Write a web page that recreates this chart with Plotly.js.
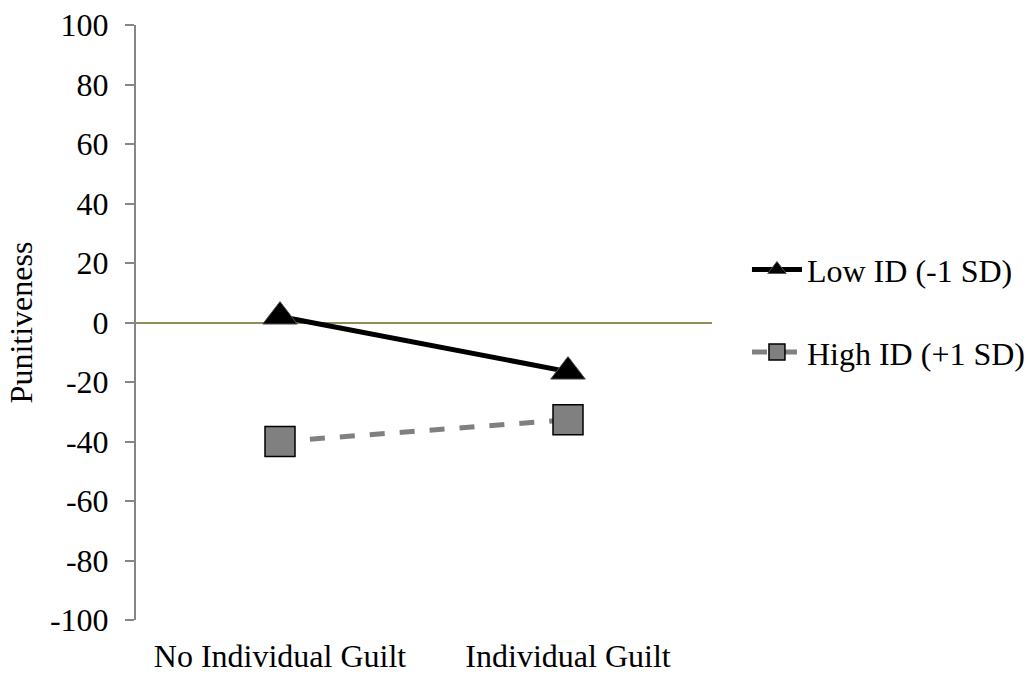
<!DOCTYPE html>
<html>
<head>
<meta charset="utf-8">
<script src="https://cdn.plot.ly/plotly-3.0.1.min.js"></script>
<style>html,body{margin:0;padding:0;background:#fff;}#chart{width:1034px;height:675px;}</style>
</head>
<body>
<div id="chart"></div>
<script>
const categories = ["No Individual Guilt", "Individual Guilt"];
const lowIdValues = [2, -16.5];
const highIdValues = [-40, -32.7];
const seriesNames = ["Low ID (-1 SD)", "High ID (+1 SD)"];
const yTickValues = [-100, -80, -60, -40, -20, 0, 20, 40, 60, 80, 100];
const yTickLabels = ["-100", "-80", "-60", "-40", "-20", "0", "20", "40", "60", "80", "100"];

const font = "'Liberation Serif', 'Times New Roman', Times, serif";

const traces = [
  {
    x: categories, y: lowIdValues, name: seriesNames[0], type: "scatter", mode: "lines+markers",
    legendgroup: "a",
    line: {color: "#000000", width: 5},
    marker: {symbol: "triangle-up", size: 30, color: "#000000", line: {color: "#555555", width: 1}}
  },
  {
    x: categories, y: highIdValues, name: seriesNames[1], type: "scatter", mode: "lines+markers",
    legendgroup: "b",
    line: {color: "#808080", width: 5, dash: "dash"},
    marker: {symbol: "square", size: 30, color: "#808080", line: {color: "#000000", width: 1.5}}
  }
];

const layout = {
  width: 1034, height: 675,
  margin: {l: 136, r: 322, t: 25, b: 55},
  paper_bgcolor: "#ffffff", plot_bgcolor: "#ffffff",
  font: {family: font, size: 32, color: "#000000"},
  showlegend: true,
  legend: {
    xref: "container", yref: "container",
    x: 0.7224, y: 0.539, xanchor: "left", yanchor: "middle",
    font: {family: font, size: 32, color: "#000000"},
    traceorder: "grouped", tracegroupgap: 38, itemwidth: 50,
    bgcolor: "rgba(0,0,0,0)"
  },
  xaxis: {
    type: "category", range: [-0.5, 1.5],
    showline: false, showgrid: false, zeroline: false, ticks: "",
    tickfont: {family: font, size: 32, color: "#000000"},
    ticklabelstandoff: 14, automargin: false
  },
  yaxis: {
    range: [-100, 100], tickvals: yTickValues, ticktext: yTickLabels,
    showline: true, linecolor: "#868686", linewidth: 2,
    ticks: "outside", ticklen: 9, tickcolor: "#868686", tickwidth: 2,
    showgrid: false,
    zeroline: true, zerolinecolor: "#948A54", zerolinewidth: 2,
    tickfont: {family: font, size: 32, color: "#000000"},
    ticklabelstandoff: 10,
    title: {text: "Punitiveness", font: {family: font, size: 32, color: "#000000"}, standoff: 8},
    automargin: false
  }
};

Plotly.newPlot("chart", traces, layout, {displayModeBar: false, staticPlot: true});
</script>
</body>
</html>
